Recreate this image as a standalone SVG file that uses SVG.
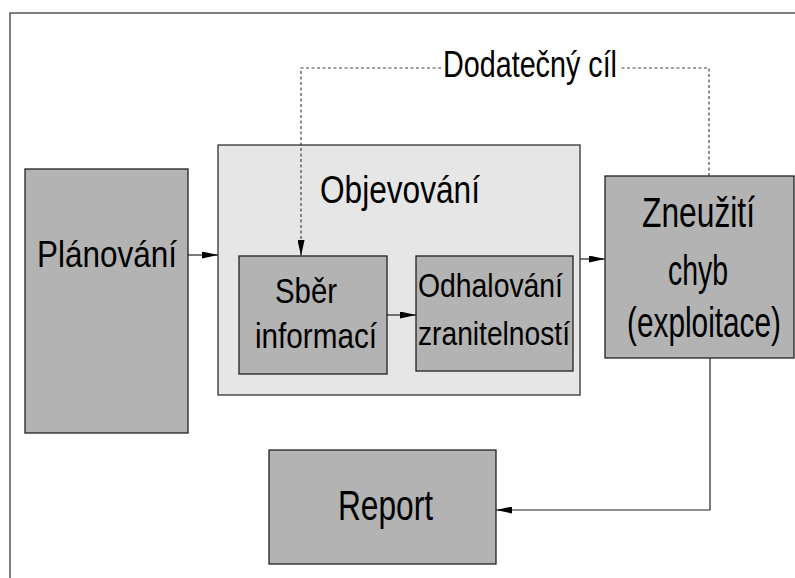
<svg xmlns="http://www.w3.org/2000/svg" width="795" height="578" viewBox="0 0 795 578">
<style>
.box{fill:#b3b3b3;stroke:#222;stroke-width:1.3}
.grp{fill:#e6e6e6;stroke:#333;stroke-width:1.3}
.t{font-family:"Liberation Sans Narrow","Liberation Sans",Arial,sans-serif;fill:#000;text-anchor:middle}
.c{fill:none;stroke:#222;stroke-width:1.2}
.d{fill:none;stroke:#444;stroke-width:1.2;stroke-dasharray:3,2.5}
</style>
<defs>
<marker id="ah" viewBox="0 0 16 7" refX="16" refY="3.5" markerWidth="16" markerHeight="7" markerUnits="userSpaceOnUse" orient="auto">
<path d="M0,0 L16,3.5 L0,7 Z" fill="#000"/>
</marker>
</defs>
<rect width="795" height="578" fill="#fff"/>
<path d="M10,578 V13 H795" fill="none" stroke="#555" stroke-width="1.5"/>
<g id="planovani">
<rect class="box" x="25" y="169" width="163" height="264"/>
<text class="t" x="107" y="267" font-size="36" textLength="140" lengthAdjust="spacingAndGlyphs">Plánování</text>
</g>
<g id="objevovani">
<rect class="grp" x="218" y="145" width="362" height="250"/>
<text class="t" x="400" y="203" font-size="38" textLength="160" lengthAdjust="spacingAndGlyphs">Objevování</text>
</g>
<g id="sber">
<rect class="box" x="239" y="256" width="148" height="118"/>
<text class="t" x="306" y="303" font-size="35" textLength="62" lengthAdjust="spacingAndGlyphs">Sběr</text>
<text class="t" x="316" y="348" font-size="35" textLength="122" lengthAdjust="spacingAndGlyphs">informací</text>
</g>
<g id="odhalovani">
<rect class="box" x="416" y="256" width="157" height="115"/>
<text class="t" x="490.5" y="297" font-size="33" textLength="145" lengthAdjust="spacingAndGlyphs">Odhalování</text>
<text class="t" x="494" y="345" font-size="33" textLength="152" lengthAdjust="spacingAndGlyphs">zranitelností</text>
</g>
<g id="zneuziti">
<rect class="box" x="605" y="176" width="189" height="182"/>
<text class="t" x="698.5" y="227" font-size="42" textLength="113" lengthAdjust="spacingAndGlyphs">Zneužití</text>
<text class="t" x="698" y="285" font-size="42" textLength="60" lengthAdjust="spacingAndGlyphs">chyb</text>
<text class="t" x="704" y="337" font-size="42" textLength="154" lengthAdjust="spacingAndGlyphs">(exploitace)</text>
</g>
<g id="report">
<rect class="box" x="269" y="450" width="227" height="114"/>
<text class="t" x="385.5" y="520" font-size="42" textLength="95" lengthAdjust="spacingAndGlyphs">Report</text>
</g>
<g id="connectors">
<line class="c" x1="188" y1="255" x2="218" y2="255" marker-end="url(#ah)"/>
<line class="c" x1="387" y1="315" x2="416" y2="315" marker-end="url(#ah)"/>
<line class="c" x1="580" y1="259" x2="605" y2="259" marker-end="url(#ah)"/>
<path class="c" d="M710,358 V510 H496" marker-end="url(#ah)"/>
<path class="d" d="M709,176 V68 H620 M441,68 H301 V256" marker-end="url(#ah)"/>
<text class="t" x="530" y="77" font-size="37" textLength="174" lengthAdjust="spacingAndGlyphs">Dodatečný cíl</text>
</g>
</svg>
